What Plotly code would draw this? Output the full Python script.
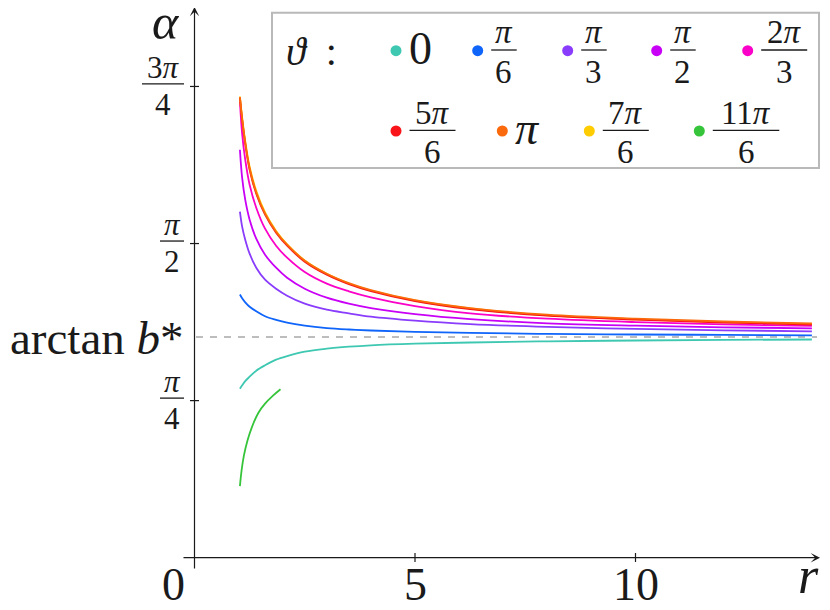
import numpy as np
import plotly.graph_objects as go

# ------------------------------------------------------------
# data
# ------------------------------------------------------------
r_main = [1.03, 1.08, 1.15, 1.25, 1.4, 1.6, 1.85, 2.1, 2.5, 3.0, 3.5, 4.0,
          5.0, 6.25, 8.0, 10.0, 12.0, 14.0]
alpha_0 = [0.845, 0.862, 0.883, 0.905, 0.935, 0.962, 0.990, 1.008, 1.030, 1.045, 1.055, 1.062,
           1.070, 1.076, 1.082, 1.086, 1.089, 1.091]
alpha_pi6 = [1.316, 1.297, 1.277, 1.255, 1.232, 1.207, 1.189, 1.175, 1.160, 1.148, 1.141, 1.136,
             1.129, 1.124, 1.119, 1.116, 1.114, 1.112]
alpha_pi3 = [1.730, 1.655, 1.590, 1.520, 1.450, 1.390, 1.345, 1.310, 1.270, 1.240, 1.222, 1.205,
             1.185, 1.168, 1.154, 1.144, 1.137, 1.132]
alpha_pi2 = [2.040, 1.900, 1.790, 1.690, 1.595, 1.515, 1.450, 1.400, 1.345, 1.300, 1.270, 1.248,
             1.218, 1.193, 1.172, 1.160, 1.152, 1.147]
alpha_2pi3 = [2.280, 2.120, 1.990, 1.865, 1.750, 1.645, 1.560, 1.500, 1.428, 1.370, 1.332, 1.302,
              1.258, 1.222, 1.195, 1.178, 1.167, 1.159]
alpha_5pi6 = [2.300, 2.190, 2.070, 1.940, 1.820, 1.715, 1.625, 1.560, 1.480, 1.415, 1.368, 1.333,
              1.283, 1.243, 1.210, 1.190, 1.176, 1.166]
alpha_pi = [2.303, 2.195, 2.076, 1.946, 1.826, 1.720, 1.630, 1.565, 1.485, 1.420, 1.373, 1.338,
            1.288, 1.248, 1.215, 1.195, 1.181, 1.171]
alpha_7pi6 = [2.306, 2.202, 2.084, 1.955, 1.834, 1.726, 1.634, 1.567, 1.486, 1.419, 1.371, 1.336,
              1.286, 1.246, 1.212, 1.192, 1.178, 1.168]

r_short = [1.03, 1.07, 1.12, 1.2, 1.3, 1.45, 1.6, 1.78, 1.95]
alpha_11pi6 = [0.358, 0.440, 0.510, 0.585, 0.652, 0.725, 0.770, 0.810, 0.842]

arctan_bstar = 1.104

theta_labels = ["0", "π/6", "π/3", "π/2", "2π/3", "5π/6", "π", "7π/6", "11π/6"]
theta_colors = ["#3ec8b2", "#0f64fa", "#8a3cfc", "#c800f6", "#fa00c8",
                "#f81418", "#fa6a0c", "#ffcc00", "#36c43a"]

ytick_vals = [np.pi / 4, np.pi / 2, 3 * np.pi / 4]
ytick_labels = ["π/4", "π/2", "3π/4"]
xtick_vals = [5, 10]
xtick_labels = ["5", "10"]

# ------------------------------------------------------------
# pixel frame: page pixels of the 830x610 window
# (the html body adds an 8px margin, so the figure is 822x602)
# ------------------------------------------------------------
W, H = 830, 610
PAD = 8
X0, SX = 194.5, 44.1     # page pixel of r=0, pixels per unit r
Y0, SY = 557.7, 200.0    # page pixel of alpha=0, pixels per radian
INK = "#1a1a1a"
SERIF = "Liberation Serif, DejaVu Serif, serif"


def X(px):
    return (px - X0) / SX


def Y(py):
    return (Y0 - py) / SY


def px_y(val):
    return Y0 - SY * val


annotations = []
shapes = []


def add_text(px, baseline, text, size, anchor="center"):
    annotations.append(dict(
        x=X(px), y=Y(baseline - 0.3375 * size), xref="x", yref="y",
        text=text, showarrow=False, xanchor=anchor, yanchor="middle",
        font=dict(family=SERIF, size=size, color=INK),
    ))


def math(s):
    return s.replace("π", "<i>π</i>")


def add_frac(cx, bar_y, num, den, size, w):
    shapes.append(dict(type="line", xref="x", yref="y",
                       x0=X(cx - w / 2), x1=X(cx + w / 2), y0=Y(bar_y), y1=Y(bar_y),
                       line=dict(color=INK, width=1.3)))
    add_text(cx, bar_y - 0.2 * size, math(num), size)
    add_text(cx, bar_y + 1.0 * size, math(den), size)


fig = go.Figure()

# curves (yellow under red/orange, as in the picture)
series = [alpha_0, alpha_pi6, alpha_pi3, alpha_pi2, alpha_2pi3,
          alpha_5pi6, alpha_pi, alpha_7pi6]
order = [0, 1, 2, 3, 4, 7, 5, 6]
for i in order:
    fig.add_trace(go.Scatter(
        x=r_main, y=series[i], mode="lines", name=theta_labels[i],
        line=dict(color=theta_colors[i], width=1.8, shape="spline", smoothing=1.0),
        showlegend=False, hoverinfo="skip",
    ))
fig.add_trace(go.Scatter(
    x=r_short, y=alpha_11pi6, mode="lines", name=theta_labels[8],
    line=dict(color=theta_colors[8], width=1.8, shape="spline", smoothing=1.0),
    showlegend=False, hoverinfo="skip",
))

# dashed asymptote
shapes.append(dict(type="line", xref="x", yref="y", x0=X(196), x1=X(817),
                   y0=arctan_bstar, y1=arctan_bstar, layer="below",
                   line=dict(color="#a8a8a8", width=1.5, dash="7px,7px")))

# axes with arrow heads
annotations.append(dict(x=X(820), y=0, ax=X(182), ay=0, xref="x", yref="y",
                        axref="x", ayref="y", text="", showarrow=True,
                        arrowhead=3, arrowsize=1.3, arrowwidth=1.2, arrowcolor=INK))
annotations.append(dict(x=0, y=Y(7), ax=0, ay=Y(570), xref="x", yref="y",
                        axref="x", ayref="y", text="", showarrow=True,
                        arrowhead=3, arrowsize=1.3, arrowwidth=1.2, arrowcolor=INK))

# ticks
for v in ytick_vals:
    shapes.append(dict(type="line", xref="x", yref="y", x0=X(190), x1=X(199),
                       y0=v, y1=v, line=dict(color=INK, width=1.2)))
for v in xtick_vals:
    shapes.append(dict(type="line", xref="x", yref="y", x0=v, x1=v,
                       y0=Y(562), y1=Y(553), line=dict(color=INK, width=1.2)))

# y tick labels (stacked fractions)
for v, lab in zip(ytick_vals, ytick_labels):
    num, den = lab.split("/")
    w = 42 if len(num) > 1 else 24
    add_frac(184 - w / 2, px_y(v) - 2.5, num, den, 31, w)
add_text(186, 354, "arctan <i>b</i>*", 47, anchor="right")

# x tick labels
for v, lab in zip(xtick_vals, xtick_labels):
    add_text(X0 + SX * v, 600, lab, 46)
add_text(173, 600, "0", 46)

# axis titles (alpha gets a short box so it stays inside the page)
annotations.append(dict(
    x=X(166), y=Y(40 + 0.216 * 50 + 1), xref="x", yref="y",
    text="<i>α</i>", showarrow=False, xanchor="center", yanchor="bottom",
    height=38, valign="bottom",
    font=dict(family=SERIF, size=50, color=INK),
))
add_text(808, 593, "<i>r</i>", 52)

# legend (hand-built to get the stacked fractions)
shapes.append(dict(type="rect", xref="x", yref="y", x0=X(272), x1=X(819),
                   y0=Y(12.7), y1=Y(168), line=dict(color="#b9b9b9", width=2)))
add_text(284, 65, "<i>ϑ</i>&nbsp; :", 40, anchor="left")

dot_pos = [(396, 50.7), (477.7, 50.7), (567.7, 50.7), (656.7, 50.7), (747.7, 50.7),
           (396, 131), (502.3, 131), (589.3, 131), (699.3, 131)]
for (cx, cy), lab, col in zip(dot_pos, theta_labels, theta_colors):
    shapes.append(dict(type="circle", xref="x", yref="y",
                       xsizemode="pixel", ysizemode="pixel",
                       xanchor=X(cx), yanchor=Y(cy), x0=-5.5, x1=5.5, y0=-5.5, y1=5.5,
                       fillcolor=col, line=dict(width=0)))
    if "/" in lab:
        num, den = lab.split("/")
        w = 5 + 20.5 * len(num)
        add_frac(cx + 13.5 + w / 2, cy - 0.7, num, den, 33, w)
    else:
        add_text(cx + 11, cy + 13.5, math(lab), 46, anchor="left")

fig.update_layout(
    width=W - PAD, height=H - PAD,
    margin=dict(l=0, r=0, t=0, b=0),
    paper_bgcolor="white", plot_bgcolor="white",
    xaxis=dict(range=[X(PAD), X(W)], visible=False, fixedrange=True),
    yaxis=dict(range=[Y(H), Y(PAD)], visible=False, fixedrange=True),
    shapes=shapes, annotations=annotations,
    showlegend=False,
)

fig.write_html("out.html", config={"displayModeBar": False})
